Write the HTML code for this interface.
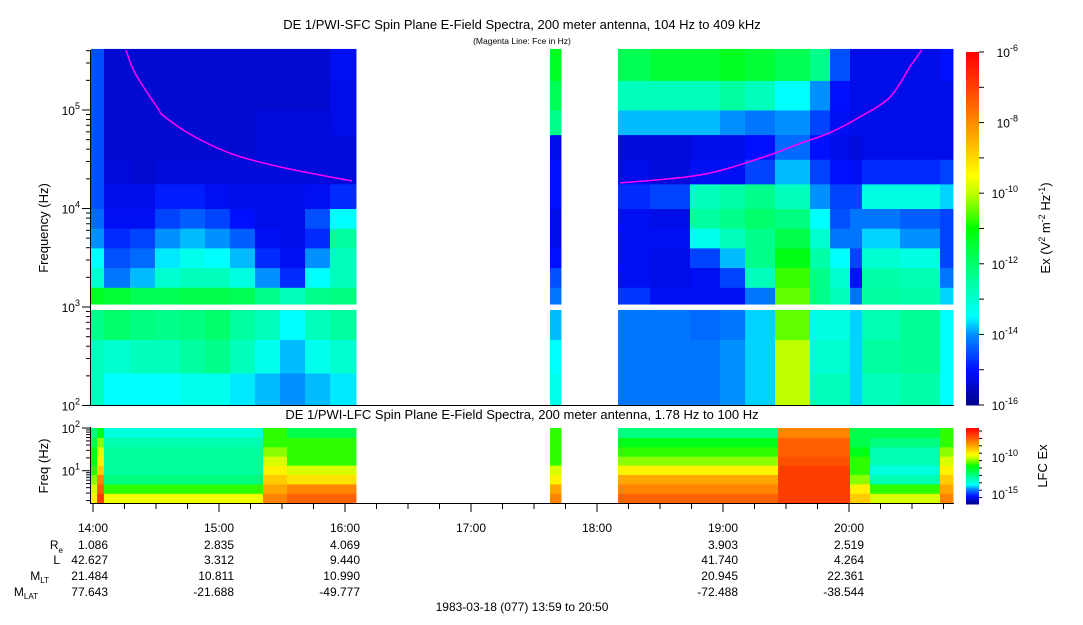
<!DOCTYPE html>
<html><head><meta charset="utf-8">
<style>
html,body{margin:0;padding:0;background:#fff;}
body{width:1083px;height:620px;overflow:hidden;font-family:"Liberation Sans",sans-serif;}
svg text{font-family:"Liberation Sans",sans-serif;fill:#000;}
</style></head>
<body>
<svg id="chart" width="1083" height="620" viewBox="0 0 1083 620" xmlns="http://www.w3.org/2000/svg">
  <text x="522" y="29" font-size="13" text-anchor="middle">DE 1/PWI-SFC  Spin Plane E-Field Spectra, 200 meter antenna, 104 Hz to 409 kHz</text>
  <text x="522" y="44" font-size="8.5" text-anchor="middle">(Magenta Line: Fce in Hz)</text>
  <text x="522" y="419" font-size="13" text-anchor="middle">DE 1/PWI-LFC  Spin Plane E-Field Spectra, 200 meter antenna, 1.78 Hz to 100 Hz</text>
  <g id="topMarks"></g>
  <g id="botMarks"></g>
  <g id="axes"></g>
  <text transform="translate(48,228) rotate(-90)" font-size="13" text-anchor="middle">Frequency (Hz)</text>
  <text transform="translate(48,466) rotate(-90)" font-size="13" text-anchor="middle">Freq (Hz)</text>
  <text transform="translate(1050,228) rotate(-90)" font-size="13" text-anchor="middle">Ex (V<tspan font-size="9" dy="-5">2</tspan><tspan dy="5"> m</tspan><tspan font-size="9" dy="-5">-2</tspan><tspan dy="5"> Hz</tspan><tspan font-size="9" dy="-5">-1</tspan><tspan dy="5">)</tspan></text>
  <text transform="translate(1047,466) rotate(-90)" font-size="13" text-anchor="middle">LFC Ex</text>
  <text x="522" y="611" font-size="12" text-anchor="middle">1983-03-18 (077) 13:59 to 20:50</text>
</svg>
<script>
// ---------- data ----------
const topColStarts = [13.984,14.087,14.294,14.492,14.690,14.889,15.087,15.286,15.484,15.683,15.881,16.087,17.627,17.714,18.167,18.421,18.738,18.976,19.175,19.413,19.690,19.849,20.008,20.103,20.405,20.722];
const topEnd = 20.825;
const topBandEdges = [2.0,2.33,2.67,2.97,3.03,3.2,3.4,3.6,3.8,4.0,4.25,4.5,4.75,5.0,5.3,5.62];
const topValues = [
 [-12.8,-12.8,-12.3,null,-11.3,-13,-13.5,-14,-14.3,-14.5,-14.5,-14.5,-14.5,-14.5,-14.5],
 [-13.5,-13,-12,null,-11.5,-14.2,-14.5,-14.8,-15.1,-15.2,-15.3,-15.4,-15.4,-15.4,-15.4],
 [-13.5,-12.8,-12.2,null,-11.8,-13.8,-14.3,-14.6,-15.1,-15.2,-15.4,-15.4,-15.4,-15.4,-15.4],
 [-13.5,-12.8,-12.3,null,-11.8,-13,-13.6,-14,-14.6,-14.9,-15.3,-15.4,-15.4,-15.4,-15.4],
 [-13.3,-12.5,-12.2,null,-11.7,-12.8,-13.3,-13.8,-14.4,-14.9,-15.3,-15.4,-15.4,-15.4,-15.4],
 [-13.3,-12.3,-12,null,-11.7,-12.8,-13.5,-14,-14.6,-15.1,-15.3,-15.4,-15.4,-15.4,-15.4],
 [-13.6,-12.8,-12.5,null,-11.8,-13.2,-13.8,-14.4,-15,-15.2,-15.3,-15.4,-15.4,-15.4,-15.4],
 [-13.8,-13.3,-12.8,null,-12.3,-14,-14.8,-15.1,-15.2,-15.2,-15.3,-15.3,-15.3,-15.4,-15.4],
 [-14,-13.8,-13.5,null,-12.8,-14.8,-15.1,-15.2,-15.2,-15.2,-15.3,-15.3,-15.3,-15.4,-15.4],
 [-13.8,-13.3,-12.8,null,-12.3,-13.5,-14,-14.8,-14.5,-15.1,-15.3,-15.3,-15.3,-15.4,-15.4],
 [-13.6,-13,-12.5,null,-12.2,-12.8,-12.8,-12.5,-13.5,-14.8,-15.3,-15.3,-15.2,-15.2,-15.1],
 null,
 [-13.3,-13.5,-13.8,null,-14.2,-14.5,-15,-15.2,-15.2,-15,-15,-15.2,-12.3,-11.8,-11.3],
 null,
 [-14.2,-14.2,-14.2,null,-14.7,-15.1,-15.1,-15.1,-15.1,-14.8,-15.2,-15.3,-13.8,-12.8,-11.8],
 [-14.2,-14.2,-14.2,null,-15.1,-15.2,-15.2,-15.1,-15.2,-14.6,-15.3,-15.3,-13.8,-12.8,-11.5],
 [-14.2,-14.2,-14.3,null,-15.1,-15.1,-14.6,-13.3,-12.5,-12.8,-15.1,-15.2,-13.8,-12.8,-11.5],
 [-14,-14,-14.2,null,-15.1,-14.6,-13.8,-12.8,-12.3,-12.6,-15.1,-15.2,-14,-12.5,-11.3],
 [-13.7,-13.7,-13.7,null,-14.2,-12.8,-12.3,-12.3,-12,-12.3,-14.6,-15,-14.2,-12.8,-11.5],
 [-10,-10,-10.5,null,-10.5,-10.7,-11.2,-11.7,-12.2,-12.8,-13.8,-14.3,-14,-13.5,-11.8],
 [-12.8,-13,-13.2,null,-12.3,-12.3,-12.6,-13,-13.5,-14,-14.6,-15,-14.6,-14,-12.3],
 [-12.8,-13,-13.2,null,-12.8,-13,-13.5,-14.2,-14.5,-14.6,-15,-15.2,-15.1,-15,-14.5],
 [-13.7,-13.7,-13.7,null,-14.2,-15,-14.6,-14.2,-14.2,-14.6,-15.1,-15.3,-15.2,-15.2,-15.2],
 [-12.8,-12.5,-12.7,null,-12.5,-12.6,-13,-13.7,-14.2,-13.2,-14.8,-15.2,-15.2,-15.2,-15.2],
 [-12.6,-12.4,-12.4,null,-12.6,-12.7,-13.2,-14,-14.4,-13.2,-14.8,-15.2,-15.2,-15.2,-15.2],
 [-13.5,-13.5,-13.5,null,-13.7,-14.2,-14.6,-14.6,-14.6,-13.7,-14.6,-15.2,-15.2,-15.2,-15]
];
const botColStarts = [13.984,14.032,14.087,15.349,15.540,16.087,17.627,17.714,18.167,19.437,20.008,20.167,20.722];
const botEnd = 20.825;
const botBandEdges = [0.25,0.47,0.69,0.91,1.13,1.34,1.56,1.78,2.0];
const botValues = [
 [-9.5,-10,-10.5,-11,-11.5,-11.5,-12,-12.5],
 [-7,-7.5,-8,-9,-9.5,-10,-10.5,-11.5],
 [-9.8,-11,-12.5,-12.8,-12.8,-12.8,-13,-13.5],
 [-8,-8.5,-9,-9.5,-10,-10.5,-11,-11],
 [-7.5,-8,-9.3,-10,-11,-11,-11,-12],
 null,
 [-8,-8.5,-9.5,-10,-11,-11,-11,-11],
 null,
 [-7.5,-8,-8.5,-9.5,-10.5,-11,-11.5,-12.5],
 [-7,-7,-7,-7,-7.3,-7.5,-7.5,-8],
 [-9,-9.5,-10.5,-11,-11,-11.5,-12,-12],
 [-10,-11,-13,-13.5,-13,-13,-12.5,-12],
 [-8,-8.5,-9,-9.5,-10,-10.5,-11,-11]
];
const fceLeftTimes = [14.262,14.333,14.508,14.571,14.810,15.127,15.524,16.056];
const fceLeftLogF = [5.609,5.376,5.030,4.929,4.726,4.543,4.411,4.279];
const fceRightTimes = [18.183,18.817,19.294,19.611,19.849,20.087,20.325,20.484,20.579];
const fceRightLogF = [4.259,4.34,4.51,4.66,4.77,4.93,5.13,5.44,5.61];
const hourLabels = ["14:00","15:00","16:00","17:00","18:00","19:00","20:00"];
const hourTicks = [14,15,16,17,18,19,20];
const ephemTimes = [14,15,16,19,20];
const ephemRe = ["1.086","2.835","4.069","3.903","2.519"];
const ephemL = ["42.627","3.312","9.440","41.740","4.264"];
const ephemMLT = ["21.484","10.811","10.990","20.945","22.361"];
const ephemMLAT = ["77.643","-21.688","-49.777","-72.488","-38.544"];

// ---------- scales ----------
const xT = h => 93 + (h-14)*126;
const yTop = lf => 405.5 - (lf-2)*98.5;
const yBot = lf => 470.7 - (lf-1)*42.7;
const stops=[[0,[0,0,139]],[0.1,[0,16,255]],[0.2,[0,144,255]],[0.25,[0,255,255]],[0.35,[0,255,160]],[0.5,[0,255,0]],[0.6,[192,255,0]],[0.65,[255,255,0]],[0.75,[255,176,0]],[0.9,[255,64,0]],[1,[255,0,0]]];
function cmap(t){t=Math.max(0,Math.min(1,t));for(let i=1;i<stops.length;i++){if(t<=stops[i][0]){const a=stops[i-1],b=stops[i];const f=(t-a[0])/(b[0]-a[0]);const c=a[1].map((v,k)=>Math.round(v+(b[1][k]-v)*f));return `rgb(${c[0]},${c[1]},${c[2]})`;}}return 'rgb(255,0,0)';}
const NS='http://www.w3.org/2000/svg';
function mk(tag,attrs,parent){const e=document.createElementNS(NS,tag);for(const k in attrs)e.setAttribute(k,attrs[k]);parent.appendChild(e);return e;}

// ---------- top spectrogram ----------
const gT=document.getElementById('topMarks');
topColStarts.forEach((t0,i)=>{
  const col=topValues[i]; if(!col) return;
  const t1 = i+1<topColStarts.length?topColStarts[i+1]:topEnd;
  col.forEach((v,j)=>{ if(v===null) return;
    const ya=yTop(topBandEdges[j+1]), yb=yTop(topBandEdges[j]);
    const r=mk('rect',{x:xT(t0),y:ya,width:xT(t1)-xT(t0)+0.5,height:yb-ya+0.5,fill:cmap((v+16)/10)},gT);
    
    
  });
});
function fceLine(ts,ls,name){
  const P=ts.map((t,i)=>[xT(t),yTop(ls[i])]);
  let d='M'+P[0][0]+','+P[0][1];
  for(let i=0;i<P.length-1;i++){
    const p0=P[Math.max(0,i-1)],p1=P[i],p2=P[i+1],p3=P[Math.min(P.length-1,i+2)];
    const c1=[p1[0]+(p2[0]-p0[0])/6,p1[1]+(p2[1]-p0[1])/6];
    const c2=[p2[0]-(p3[0]-p1[0])/6,p2[1]-(p3[1]-p1[1])/6];
    d+=` C${c1[0]},${c1[1]} ${c2[0]},${c2[1]} ${p2[0]},${p2[1]}`;
  }
  const p=mk('path',{d,fill:'none',stroke:'#ff00ff','stroke-width':1.5},gT);
  
  
}
fceLine(fceLeftTimes,fceLeftLogF,'fce-line-left');
fceLine(fceRightTimes,fceRightLogF,'fce-line-right');

// ---------- bottom spectrogram ----------
const gB=document.getElementById('botMarks');
botColStarts.forEach((t0,i)=>{
  const col=botValues[i]; if(!col) return;
  const t1 = i+1<botColStarts.length?botColStarts[i+1]:botEnd;
  col.forEach((v,j)=>{
    const ya=yBot(botBandEdges[j+1]), yb=yBot(botBandEdges[j]);
    const r=mk('rect',{x:xT(t0),y:ya,width:xT(t1)-xT(t0)+0.5,height:yb-ya+0.5,fill:cmap((v+16.5)/10.5)},gB);
    
    
  });
});

// ---------- axes ----------
const gA=document.getElementById('axes');
function line(x1,y1,x2,y2,w){mk('line',{x1,y1,x2,y2,stroke:'#000','stroke-width':w||1},gA);}
function txt(x,y,s,anchor,size){const t=mk('text',{x,y,'font-size':size||12,'text-anchor':anchor||'middle'},gA);t.textContent=s;return t;}
function pow(x,y,exp,anchor){const t=mk('text',{x,y,'font-size':12,'text-anchor':anchor||'end'},gA);t.textContent='10';const s=mk('tspan',{'font-size':9,dy:-6},t);s.textContent=exp;return t;}
line(90.5,50,90.5,406);line(90,405.5,954,405.5);
for(let d=2;d<=5;d++){for(let m=1;m<=9;m++){const lf=d+Math.log10(m);if(lf>5.62)break;const y=yTop(lf);line(m===1?82:86,y,90,y);}
  pow(80,yTop(d)+5,String(d));}
line(90.5,427,90.5,504);line(90,503.5,954,503.5);
for(let d=0;d<=2;d++){for(let m=1;m<=9;m++){const lf=d+Math.log10(m);if(lf<0.25||lf>2.0)continue;const y=yBot(lf);line(m===1?82:86,y,90,y);}}
pow(80,yBot(2)+5,'2');pow(80,yBot(1)+5,'1');
for(let h=14;h<=20.8;h+=0.25){const x=xT(h);const major=Math.abs(h-Math.round(h))<1e-6;line(x,504,x,major?512:509);}
hourTicks.forEach((h,i)=>txt(xT(h),532,hourLabels[i]));
const rowY=[549,564,580,596];
const rows=[ephemRe,ephemL,ephemMLT,ephemMLAT];
rows.forEach((arr,r)=>arr.forEach((s,i)=>txt(xT(ephemTimes[i])+15,rowY[r],s,'end')));
let t=txt(63,549,'R','end');let s=mk('tspan',{'font-size':8,dy:4},t);s.textContent='e';
txt(60,564,'L','end');
t=txt(49,580,'M','end');s=mk('tspan',{'font-size':8,dy:3},t);s.textContent='LT';
t=txt(38,596,'M','end');s=mk('tspan',{'font-size':8,dy:3},t);s.textContent='LAT';
const cb1=mk('g',{},gA);
for(let k=0;k<200;k++){const y0=52+k*(353/200);mk('rect',{x:966,y:y0,width:13,height:353/200+0.5,fill:cmap(1-(k+0.5)/200)},cb1);}
for(let e=0;e<=10;e++){const y=52+e*35.3;line(979,y,984,y);if(e%2===0)pow(1018,y+5,String(-6-e));}
const cb2=mk('g',{},gA);
for(let k=0;k<80;k++){const y0=428+k*(76/80);mk('rect',{x:966,y:y0,width:13,height:76/80+0.5,fill:cmap(1-(k+0.5)/80)},cb2);}
for(let k=0;k<=10;k++){const y=428+k*7.4+3;if(y<504)line(979,y,982,y);}
pow(1018,462,'-10');pow(1018,499,'-15');
</script>
</body></html>
